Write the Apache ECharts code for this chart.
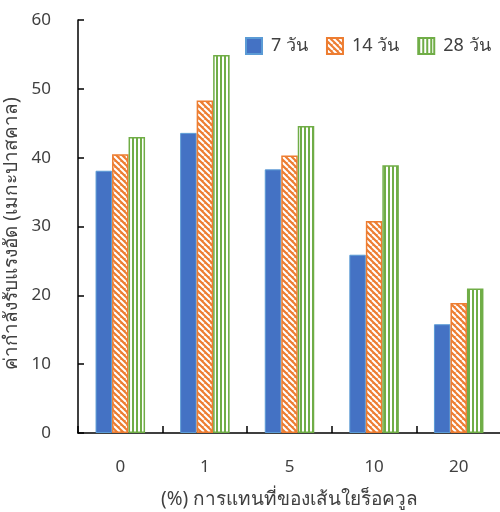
<!DOCTYPE html>
<html>
<head>
<meta charset="utf-8">
<script src="https://cdn.jsdelivr.net/npm/echarts@6/dist/echarts.min.js"></script>
<style>
  html, body { margin: 0; padding: 0; background: #fff; }
  #chart { width: 500px; height: 512px; }
</style>
</head>
<body>
<div id="chart"></div>
<script>
// Replacement ratio of fibre (%) on the x axis
const categories = ['0', '1', '5', '10', '20'];
// Compressive strength (MPa) by curing age
const seriesNames = ['7 วัน', '14 วัน', '28 วัน'];
const day7 = [38.1, 43.6, 38.3, 25.9, 15.8];
const day14 = [40.5, 48.3, 40.3, 30.8, 18.9];
const day28 = [43.0, 54.9, 44.6, 38.9, 21.0];
const yTicks = [0, 10, 20, 30, 40, 50, 60];

const FONT = '"Noto Sans", "DejaVu Sans", sans-serif';

// Diagonal hatch: white stripes on orange
function diagonalHatch() {
  const c = document.createElement('canvas');
  c.width = 6; c.height = 6;
  const g = c.getContext('2d');
  g.fillStyle = '#ED7D31';
  g.fillRect(0, 0, 6, 6);
  g.strokeStyle = '#ffffff';
  g.lineWidth = 2;
  for (let k = -6; k <= 12; k += 6) {
    g.beginPath();
    g.moveTo(k, 0);
    g.lineTo(k + 6, 6);
    g.stroke();
  }
  return { image: c, repeat: 'repeat' };
}

// Vertical hatch: green lines on white
function verticalHatch() {
  const c = document.createElement('canvas');
  c.width = 4; c.height = 4;
  const g = c.getContext('2d');
  g.fillStyle = '#ffffff';
  g.fillRect(0, 0, 4, 4);
  g.fillStyle = '#70AD47';
  g.fillRect(0, 0, 2, 4);
  return { image: c, repeat: 'repeat' };
}

const chart = echarts.init(document.getElementById('chart'), null, { renderer: 'canvas' });

const option = {
  backgroundColor: '#ffffff',
  animation: false,
  textStyle: { fontFamily: FONT },
  grid: { left: 78, right: -1, top: 20, bottom: 79, containLabel: false, outerBoundsMode: 'none' },
  legend: {
    top: 32,
    left: 240,
    itemWidth: 16,
    itemHeight: 16,
    itemGap: 18,
    icon: 'rect',
    textStyle: { fontSize: 18, color: '#404040', fontFamily: FONT, padding: [0, 0, 0, 4] },
    data: seriesNames
  },
  xAxis: {
    type: 'category',
    data: categories,
    name: '(%) การแทนที่ของเส้นใยร็อควูล',
    nameLocation: 'middle',
    nameGap: 57,
    nameTextStyle: { fontSize: 19, color: '#404040', fontFamily: FONT },
    axisLine: { lineStyle: { color: '#000000', width: 1.5 } },
    axisTick: { show: true, inside: true, length: 7, alignWithLabel: false, lineStyle: { color: '#000000', width: 1.5 } },
    axisLabel: { fontSize: 17, color: '#404040', margin: 26, fontFamily: FONT },
    splitLine: { show: false }
  },
  yAxis: {
    type: 'value',
    min: yTicks[0],
    max: yTicks[yTicks.length - 1],
    interval: yTicks[1] - yTicks[0],
    name: 'ค่ากำลังรับแรงอัด (เมกะปาสคาล)',
    nameLocation: 'middle',
    nameGap: 57,
    nameRotate: 90,
    nameTextStyle: { fontSize: 19, color: '#404040', fontFamily: FONT, padding: [0, 14, 0, 0] },
    axisLine: { show: true, lineStyle: { color: '#000000', width: 1.5 } },
    axisTick: { show: true, inside: true, length: 6, lineStyle: { color: '#000000', width: 1.5 } },
    axisLabel: { fontSize: 17, color: '#404040', margin: 27, fontFamily: FONT },
    splitLine: { show: false }
  },
  series: [
    {
      name: seriesNames[0],
      type: 'bar',
      data: day7,
      barWidth: 16.5,
      barGap: '0%',
      itemStyle: { color: '#4472C4', borderColor: '#5B9BD5', borderWidth: 1 }
    },
    {
      name: seriesNames[1],
      type: 'bar',
      data: day14,
      barWidth: 16.5,
      barGap: '0%',
      itemStyle: { color: diagonalHatch(), borderColor: '#ED7D31', borderWidth: 1.5 }
    },
    {
      name: seriesNames[2],
      type: 'bar',
      data: day28,
      barWidth: 16.5,
      barGap: '0%',
      itemStyle: { color: verticalHatch(), borderColor: '#70AD47', borderWidth: 1.5 }
    }
  ]
};

chart.setOption(option);
</script>
</body>
</html>
